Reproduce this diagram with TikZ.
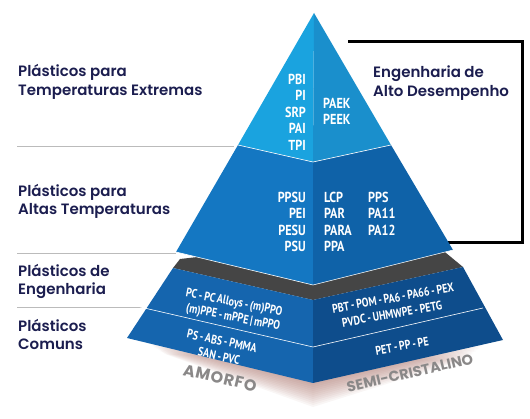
\documentclass[tikz,border=0pt]{standalone}
\usepackage{fontspec}
\newfontfamily\lblfont{Poppins}[UprightFont={* SemiBold}]
\newfontfamily\basefont{Poppins}[UprightFont={* Bold}]
\newfontfamily\amfont{Poppins}[UprightFont={* Bold}, LetterSpace=5]
\newfontfamily\pyrfont{PT Sans}[UprightFont={* Bold}, FakeStretch=0.84]
\newfontfamily\slabfont{PT Sans}[UprightFont={* Bold}, FakeStretch=0.8, WordSpace=0.75]
\definecolor{navy}{HTML}{1B1D4F}
\definecolor{sepgray}{HTML}{BBBBBB}
\definecolor{basegray}{HTML}{8A8888}
\definecolor{topL}{HTML}{1AA3DF}
\definecolor{topR}{HTML}{1A8FCC}
\definecolor{midL}{HTML}{1477C2}
\definecolor{midR}{HTML}{0F62A8}
\definecolor{slabL}{HTML}{1565AE}
\definecolor{slabR}{HTML}{0E4D8C}
\definecolor{slabtop}{HTML}{454545}
\definecolor{shadowc}{HTML}{9A5A50}
\tikzset{
  lbl/.style={font=\lblfont\fontsize{15}{18.5}\selectfont, text=navy, align=left, anchor=west, inner sep=0pt},
  pyr/.style={font=\pyrfont\fontsize{14.5}{16.5}\selectfont, text=white, inner sep=0pt},
  slabtxt/.style={font=\slabfont\fontsize{12.5}{15}\selectfont, text=white, inner sep=0pt},
  basetxt/.style={text=basegray, inner sep=0pt},
  sepline/.style={draw=sepgray, line width=1pt},
  edgeline/.style={draw=white, line width=0.6pt},
}
\begin{document}
\begin{tikzpicture}[x=1pt,y=-1pt]
\path[use as bounding box] (0,0) rectangle (530,419);
% shadow
\foreach \i in {1,...,12}{
  \fill[shadowc,opacity=0.055] (140+\i*2,338+\i*1.3) -- (313,383+\i*2) -- (490-\i*2,340+\i*1.6) -- (313,360) -- cycle;
}
% bracket
\coordinate (b1) at (348,42);
\coordinate (b2) at (522,42);
\coordinate (b3) at (522,243);
\coordinate (b4) at (445,243);
\draw[line width=3pt, line join=miter] (b1) -- (b2) -- (b3) -- (b4);
% separator lines
\coordinate (s1a) at (17,147); \coordinate (s1b) at (234,147);
\coordinate (s2a) at (17,254); \coordinate (s2b) at (176,254);
\coordinate (s3a) at (17,308); \coordinate (s3b) at (142,308);
\draw[sepline] (s1a) -- (s1b);
\draw[sepline] (s2a) -- (s2b);
\draw[sepline] (s3a) -- (s3b);
% slab
\fill[slabtop] (173,268) -- (180,259) -- (215,255) -- (313,272) -- (440,248) -- (463,267) -- (313,300) -- cycle;
\fill[slabL] (173,268) -- (313,300) -- (313,383) -- (127,338) -- cycle;
\fill[slabR] (313,300) -- (463,267) -- (503,340) -- (313,383) -- cycle;
\draw[edgeline] (140,307) -- (313,347) -- (483,308);
% pyramid
\fill[topL] (314,13) -- (238,145) -- (313,162) -- cycle;
\fill[topR] (314,13) -- (313,162) -- (391,145) -- cycle;
\fill[midL] (238,145) -- (313,162) -- (313,285) -- (176,252) -- cycle;
\fill[midR] (313,162) -- (391,145) -- (453,250) -- (313,285) -- cycle;
\draw[edgeline] (238,145) -- (313,162) -- (391,145);
\draw[edgeline] (176,252) -- (313,285) -- (453,250);
% left labels
\node[lbl] (l1) at (18,82) {Plásticos para\\Temperaturas Extremas};
\node[lbl] (l2) at (18,201.5) {Plásticos para\\Altas Temperaturas};
\node[lbl] (l3) at (18,281.5) {Plásticos de\\Engenharia};
\node[lbl] (l4) at (18,334.5) {Plásticos\\Comuns};
\node[lbl] (r1) at (373,83) {Engenharia de\\Alto Desempenho};
% pyramid texts
\node[pyr, align=right, anchor=east] (t1) at (306,112) {PBI\\PI\\SRP\\PAI\\TPI};
\node[pyr, align=left, anchor=west] (t2) at (323,111.5) {PAEK\\PEEK};
\node[pyr, align=right, anchor=east] (m1) at (306,222) {PPSU\\PEI\\PESU\\PSU};
\node[pyr, align=left, anchor=west] (m2) at (324,222) {LCP\\PAR\\PARA\\PPA};
\node[pyr, align=left, anchor=west] (m3) at (368,213.5) {PPS\\PA11\\PA12};
% slab texts
\node[slabtxt, rotate=-11] (e1a) at (234,303) {PC - PC Alloys - (m)PPO};
\node[slabtxt, rotate=-11] (e1b) at (233,318) {(m)PPE - mPPE | mPPO};
\node[slabtxt, rotate=-12] (c1a) at (222,341) {PS - ABS - PMMA};
\node[slabtxt, rotate=-12] (c1b) at (219,356) {SAN - PVC};
\node[slabtxt, rotate=10] (e2a) at (393,298) {PBT - POM - PA6 - PA66 - PEX};
\node[slabtxt, rotate=10] (e2b) at (392,314) {PVDC - UHMWPE - PETG};
\node[slabtxt, rotate=10] (c2) at (402,346) {PET - PP - PE};
% base labels
\node[basetxt, font=\amfont\fontsize{16}{18}\selectfont, rotate=-13] (am) at (220,378) {AMORFO};
\node[basetxt, font=\basefont\fontsize{14.5}{16}\selectfont, rotate=13] (sc) at (410,373) {SEMI-CRISTALINO};
\end{tikzpicture}
\end{document}
